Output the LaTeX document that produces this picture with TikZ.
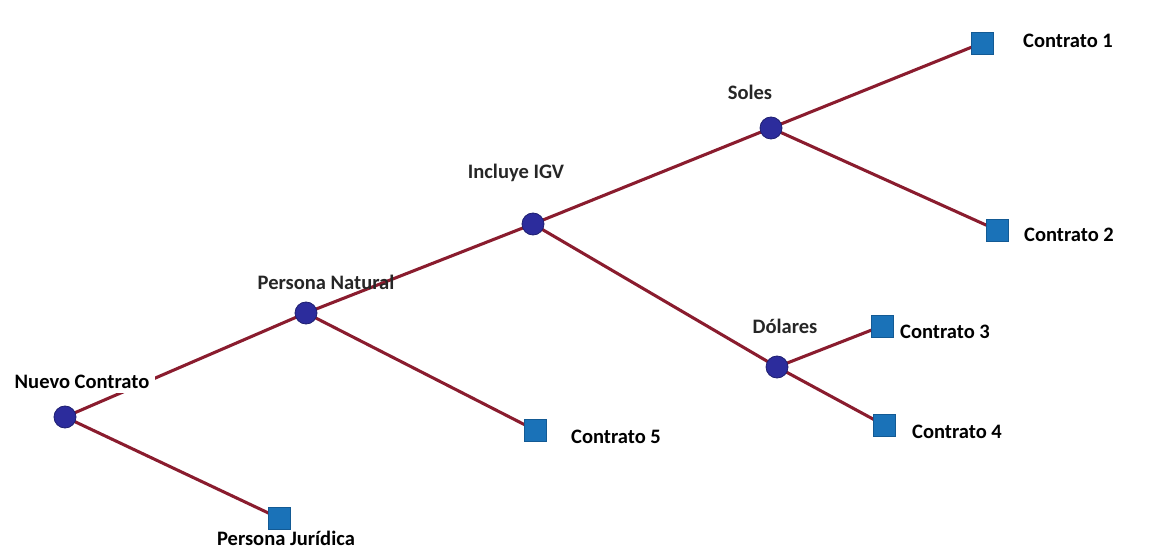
\documentclass[tikz,border=0pt]{standalone}
\usepackage{fontspec}
\setmainfont{Carlito}
\usetikzlibrary{backgrounds}
\definecolor{edgered}{HTML}{8A1C2E}
\definecolor{chancefill}{HTML}{2C2C9C}
\definecolor{chanceline}{HTML}{1F1F70}
\definecolor{endfill}{HTML}{1A72B8}
\definecolor{endline}{HTML}{135A94}
\definecolor{softink}{HTML}{262626}
\tikzset{
  chance/.style={circle, fill=chancefill, draw=chanceline, line width=0.6pt, minimum size=16.5pt, inner sep=0pt},
  outcome/.style={rectangle, fill=endfill, draw=endline, line width=0.4pt, minimum size=16.5pt, inner sep=0pt},
  branch/.style={draw=edgered, line width=2.3pt},
  lbl/.style={anchor=base, inner sep=2pt, font=\fontsize{15.4}{18}\selectfont\bfseries},
  innerlbl/.style={lbl, text=softink}
}
\begin{document}
\begin{tikzpicture}[x=0.75pt, y=-0.75pt]
  \useasboundingbox (0,0) rectangle (1150,549);

  % decision / chance points
  \node[chance] (root) at (65,417) {};
  \node[chance] (nat) at (306,313) {};
  \node[chance] (igv) at (533,224) {};
  \node[chance] (sol) at (771,128) {};
  \node[chance] (dol) at (777,367) {};

  % end points
  \node[outcome] (c1) at (982,43) {};
  \node[outcome] (c2) at (997,230) {};
  \node[outcome] (c3) at (882,326) {};
  \node[outcome] (c4) at (884,425) {};
  \node[outcome] (c5) at (535,430) {};
  \node[outcome] (jur) at (279,518) {};

  % branches, behind the points
  \begin{pgfonlayer}{background}
    \draw[branch] (root.center) -- (nat.center);
    \draw[branch] (root.center) -- (jur.center);
    \draw[branch] (nat.center) -- (igv.center);
    \draw[branch] (nat.center) -- (c5.center);
    \draw[branch] (igv.center) -- (sol.center);
    \draw[branch] (igv.center) -- (dol.center);
    \draw[branch] (sol.center) -- (c1.center);
    \draw[branch] (sol.center) -- (c2.center);
    \draw[branch] (dol.center) -- (c3.center);
    \draw[branch] (dol.center) -- (c4.center);
  \end{pgfonlayer}

  % labels
  \node[lbl, fill=white, inner xsep=4pt, inner ysep=4pt] (tRoot) at (82,388) {Nuevo Contrato};
  \node[innerlbl] (tNat) at (326,290) {Persona Natural};
  \node[innerlbl] (tIgv) at (516,179) {Incluye IGV};
  \node[innerlbl] (tSol) at (750,100) {Soles};
  \node[innerlbl] (tDol) at (785,333) {Dólares};
  \node[lbl] (t1) at (1068,48) {Contrato 1};
  \node[lbl] (t2) at (1069,242) {Contrato 2};
  \node[lbl] (t3) at (945,338) {Contrato 3};
  \node[lbl] (t4) at (957,438) {Contrato 4};
  \node[lbl] (t5) at (616,443) {Contrato 5};
  \node[lbl] (tJur) at (286,545) {Persona Jurídica};
\end{tikzpicture}
\end{document}
